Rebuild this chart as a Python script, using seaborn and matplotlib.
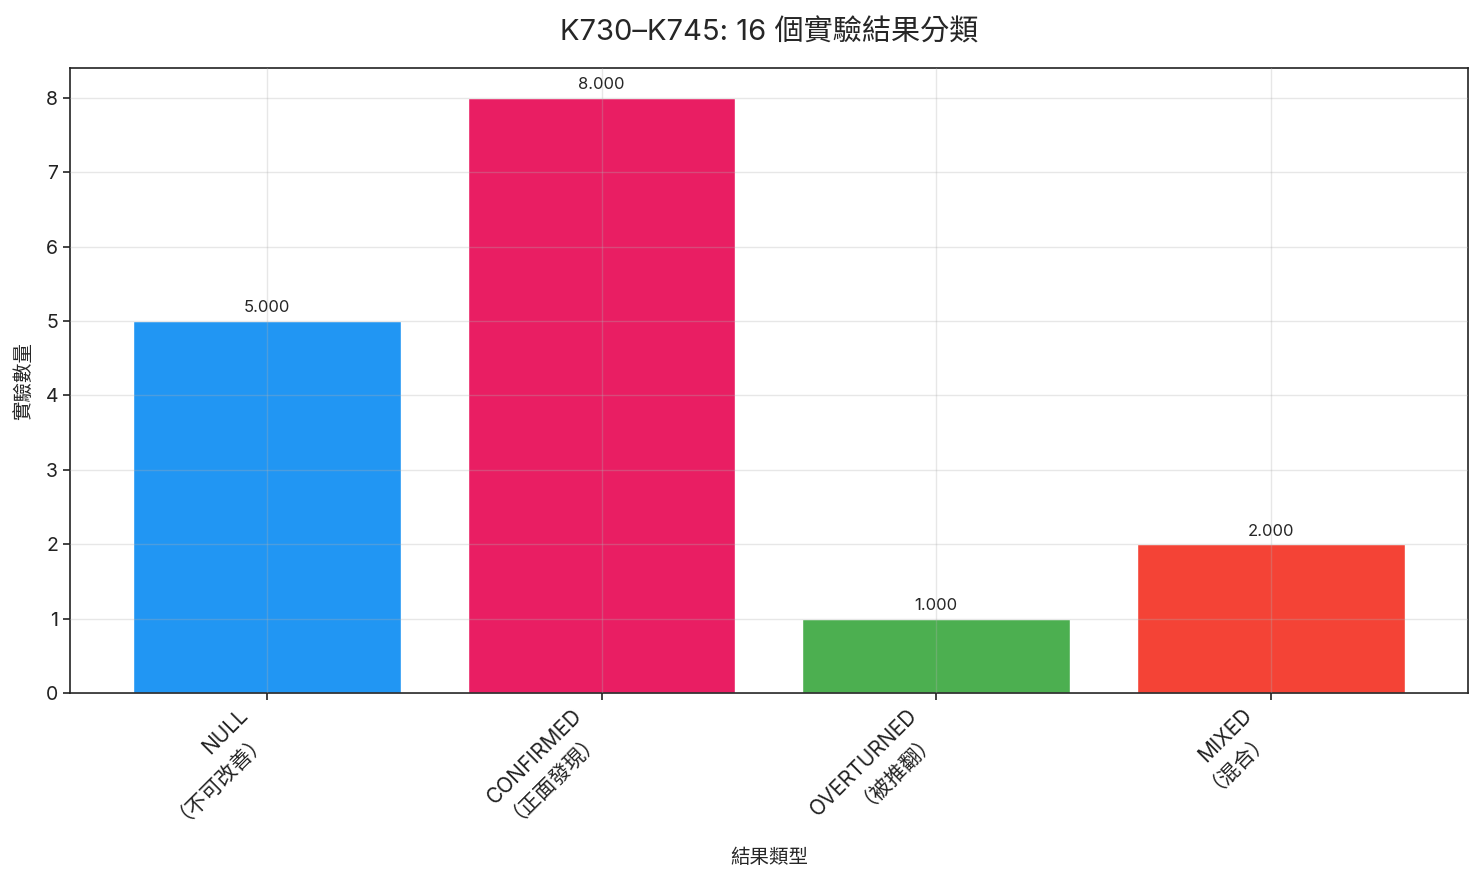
import matplotlib
matplotlib.use("Agg")
import matplotlib.pyplot as plt
import seaborn as sns
import pandas as pd

categories = ["NULL\n（不可改善）", "CONFIRMED\n（正面發現）", "OVERTURNED\n（被推翻）", "MIXED\n（混合）"]
counts = [5, 8, 1, 2]
colors = ["#2196F3", "#E91E63", "#4CAF50", "#F44336"]
title = "K730–K745: 16 個實驗結果分類"
xlabel = "結果類型"
ylabel = "實驗數量"

sns.set_style("white")
plt.rcParams["font.family"] = ["Inter", "Noto Sans CJK TC", "DejaVu Sans"]

df = pd.DataFrame({"cat": categories, "count": counts})

fig, ax = plt.subplots(figsize=(14.83, 8.81), dpi=100)
sns.barplot(data=df, x="cat", y="count", hue="cat", palette=colors,
            legend=False, width=0.8, saturation=1, ax=ax)

for c in ax.containers:
    ax.bar_label(c, fmt="%.3f", padding=4, fontsize=12)

ax.set_xlim(-0.59, 3.59)
ax.set_ylim(0, 8.4)
ax.grid(True, alpha=0.3, color="#b0b0b0", linewidth=1)
ax.set_axisbelow(False)
for s in ax.spines.values():
    s.set_visible(True)
    s.set_color("#222222")
    s.set_linewidth(1.2)
ax.tick_params(axis="both", which="both", length=5, width=1.2, labelsize=14,
               bottom=True, left=True, colors="#222222")
plt.setp(ax.get_xticklabels(), rotation=45, ha="right", fontsize=15, linespacing=1.1)
ax.set_xlabel(xlabel, fontsize=14, labelpad=10)
ax.set_ylabel(ylabel, fontsize=14, labelpad=8)
ax.set_title(title, fontsize=21, pad=20)

fig.subplots_adjust(left=0.047, right=0.99, top=0.923, bottom=0.213)
fig.savefig("out.png", dpi=100)
